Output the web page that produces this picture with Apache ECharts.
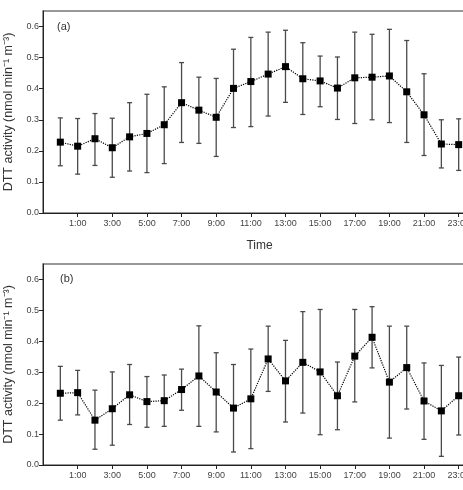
<!DOCTYPE html>
<html>
<head>
<meta charset="utf-8">
<script src="https://cdn.jsdelivr.net/npm/echarts@6/dist/echarts.min.js"></script>
<style>
  html, body { margin: 0; padding: 0; background: #fff; }
  #chart { width: 463px; height: 490px; }
</style>
</head>
<body>
<div id="chart"></div>
<script>
// hours of the day
const hours = [0, 1, 2, 3, 4, 5, 6, 7, 8, 9, 10, 11, 12, 13, 14, 15, 16, 17, 18, 19, 20, 21, 22, 23];
const tickHours = [1, 3, 5, 7, 9, 11, 13, 15, 17, 19, 21, 23];
const yTicks = [0, 0.1, 0.2, 0.3, 0.4, 0.5, 0.6];

// panel (a): mean, lower and upper end of the bars
const meanA = [0.228, 0.215, 0.239, 0.210, 0.245, 0.256, 0.284, 0.355, 0.331, 0.308, 0.401, 0.423,
  0.447, 0.471, 0.432, 0.425, 0.402, 0.435, 0.437, 0.441, 0.390, 0.316, 0.222, 0.220];
const lowA = [0.152, 0.125, 0.153, 0.115, 0.135, 0.130, 0.159, 0.227, 0.224, 0.182, 0.275, 0.278,
  0.312, 0.356, 0.317, 0.342, 0.301, 0.288, 0.300, 0.291, 0.227, 0.185, 0.145, 0.137];
const highA = [0.306, 0.304, 0.320, 0.305, 0.355, 0.382, 0.406, 0.484, 0.437, 0.433, 0.527, 0.565,
  0.582, 0.588, 0.548, 0.505, 0.502, 0.582, 0.575, 0.591, 0.555, 0.448, 0.300, 0.303];

// panel (b)
const meanB = [0.232, 0.234, 0.145, 0.182, 0.227, 0.205, 0.208, 0.244, 0.288, 0.236, 0.184, 0.214,
  0.343, 0.272, 0.332, 0.301, 0.224, 0.352, 0.413, 0.268, 0.315, 0.207, 0.175, 0.224];
const lowB = [0.145, 0.162, 0.051, 0.064, 0.131, 0.122, 0.125, 0.177, 0.125, 0.107, 0.042, 0.053,
  0.238, 0.139, 0.168, 0.098, 0.114, 0.204, 0.314, 0.087, 0.181, 0.083, 0.028, 0.097];
const highB = [0.319, 0.306, 0.242, 0.301, 0.325, 0.286, 0.291, 0.310, 0.450, 0.363, 0.325, 0.375,
  0.449, 0.403, 0.496, 0.503, 0.333, 0.503, 0.512, 0.449, 0.449, 0.330, 0.322, 0.349];

const chart = echarts.init(document.getElementById('chart'));
const font = 'Liberation Sans, Arial, sans-serif';

function xAxis(gridIndex, withName) {
  return {
    type: 'value', gridIndex, min: -1, max: 24,
    name: withName ? 'Time' : '', nameLocation: 'middle', nameGap: 27,
    nameTextStyle: { fontFamily: font, fontSize: 12, color: '#333' },
    splitLine: { show: false },
    axisLine: { onZero: false, lineStyle: { color: '#222', width: 1 } },
    axisTick: { customValues: tickHours, length: 4, lineStyle: { color: '#222' } },
    axisLabel: {
      customValues: tickHours, fontFamily: font, fontSize: 9, color: '#444', margin: 6,
      formatter: v => v + ':00'
    }
  };
}

function yAxis(gridIndex) {
  return {
    type: 'value', gridIndex, min: 0, max: 0.65,
    name: 'DTT activity (nmol min\u207B\u00B9 m\u207B\u00B3)', nameLocation: 'middle', nameGap: 28,
    nameTextStyle: { fontFamily: font, fontSize: 12.5, color: '#333' },
    splitLine: { show: false },
    axisLine: { show: true, onZero: false, lineStyle: { color: '#222', width: 1 } },
    axisTick: { show: true, customValues: yTicks, length: 4, lineStyle: { color: '#222' } },
    axisLabel: {
      customValues: yTicks, fontFamily: font, fontSize: 9, color: '#444', margin: 4,
      formatter: v => v.toFixed(1)
    }
  };
}

function errorBars(idx, low, high) {
  return {
    type: 'custom', xAxisIndex: idx, yAxisIndex: idx, z: 2,
    data: hours.map((h, i) => [h, low[i], high[i]]),
    renderItem: (params, api) => {
      const lo = api.coord([api.value(0), api.value(1)]);
      const hi = api.coord([api.value(0), api.value(2)]);
      const w = 2.5;
      const style = { stroke: '#4a4a4a', lineWidth: 1.3 };
      return {
        type: 'group',
        children: [
          { type: 'line', shape: { x1: lo[0], y1: lo[1], x2: hi[0], y2: hi[1] }, style },
          { type: 'line', shape: { x1: lo[0] - w, y1: lo[1], x2: lo[0] + w, y2: lo[1] }, style },
          { type: 'line', shape: { x1: hi[0] - w, y1: hi[1], x2: hi[0] + w, y2: hi[1] }, style }
        ]
      };
    }
  };
}

function meanLine(idx, mean) {
  return {
    type: 'line', xAxisIndex: idx, yAxisIndex: idx, z: 3,
    data: hours.map((h, i) => [h, mean[i]]),
    symbol: 'rect', symbolSize: 7,
    itemStyle: { color: '#000' },
    lineStyle: { color: '#000', width: 1.2, type: 'dotted' },
    animation: false
  };
}

chart.setOption({
  animation: false,
  backgroundColor: '#fff',
  title: [
    { text: '(a)', left: 52, top: 16, textStyle: { fontFamily: font, fontSize: 11, fontWeight: 'normal', color: '#333' } },
    { text: '(b)', left: 55, top: 268, textStyle: { fontFamily: font, fontSize: 11, fontWeight: 'normal', color: '#333' } }
  ],
  grid: [
    { left: 43, top: 11, width: 433, height: 202, show: true, borderColor: '#777', borderWidth: 1.5, outerBoundsMode: 'none', containLabel: false },
    { left: 43, top: 264, width: 433, height: 201, show: true, borderColor: '#777', borderWidth: 1.5, outerBoundsMode: 'none', containLabel: false }
  ],
  xAxis: [xAxis(0, true), xAxis(1, false)],
  yAxis: [yAxis(0), yAxis(1)],
  series: [
    errorBars(0, lowA, highA),
    meanLine(0, meanA),
    errorBars(1, lowB, highB),
    meanLine(1, meanB)
  ]
});
</script>
</body>
</html>
